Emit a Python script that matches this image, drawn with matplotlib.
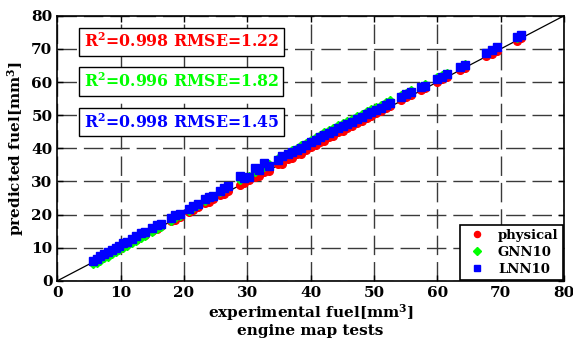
import matplotlib
matplotlib.use("Agg")
import matplotlib.pyplot as plt

plt.rcParams["font.family"] = "DejaVu Serif"
plt.rcParams["font.weight"] = "bold"
plt.rcParams["axes.labelweight"] = "bold"
plt.rcParams["mathtext.fontset"] = "dejavuserif"
plt.rcParams["mathtext.default"] = "bf"

# experimental fuel [mm^3]
experimental = [
    5.6, 6.2, 6.8, 7.4, 8.0, 8.6, 9.2, 9.8, 10.4, 11.0,
    11.8, 12.5, 13.2, 13.8, 15.0, 15.7, 16.4, 17.9, 18.6, 19.3,
    20.8, 21.5, 22.2, 23.3, 24.0, 24.6, 25.7, 26.4, 27.0, 28.8,
    29.5, 30.2, 31.2, 31.9, 32.6, 33.4, 34.9, 35.5, 36.4, 37.1,
    37.8, 38.5, 39.2, 40.1, 40.8, 41.5, 42.2, 42.9, 43.6, 44.4,
    45.1, 45.8, 46.5, 47.3, 48.1, 48.9, 49.6, 50.3, 51.1, 51.9,
    52.6, 54.3, 55.1, 55.9, 57.4, 58.0, 60.0, 60.8, 61.5, 63.6,
    64.4, 67.7, 68.6, 69.5, 72.6, 73.3,
]
physical = [
    5.7, 6.1, 6.9, 7.5, 7.9, 8.7, 9.3, 9.7, 10.5, 11.2,
    11.9, 12.4, 13.4, 13.9, 15.1, 15.6, 16.5, 18.0, 18.5, 19.4,
    20.9, 21.4, 22.3, 23.5, 23.9, 24.8, 25.9, 26.3, 27.2, 29.0,
    29.4, 30.5, 31.5, 31.8, 32.9, 33.3, 35.2, 35.4, 36.8, 37.0,
    38.2, 38.4, 39.6, 40.3, 40.9, 41.9, 42.3, 43.3, 43.8, 44.8,
    45.3, 46.2, 46.7, 47.6, 48.3, 49.2, 49.8, 50.6, 51.3, 52.2,
    52.8, 54.5, 55.5, 56.0, 57.6, 58.3, 60.1, 60.9, 61.6, 63.7,
    64.3, 67.8, 68.5, 69.4, 72.5, 73.2,
]
gnn10 = [
    5.0, 5.5, 6.1, 6.8, 7.3, 8.0, 8.6, 9.3, 9.8, 10.5,
    11.4, 12.0, 12.8, 13.5, 14.8, 15.5, 16.4, 18.0, 18.9, 19.7,
    21.2, 22.0, 22.9, 24.2, 24.9, 25.6, 26.8, 27.6, 28.4, 30.4,
    31.2, 31.8, 33.0, 33.8, 34.5, 35.4, 37.0, 37.6, 38.6, 39.4,
    40.2, 40.9, 41.6, 42.6, 43.3, 44.1, 44.8, 45.5, 46.2, 47.0,
    47.6, 48.3, 49.0, 49.7, 50.4, 51.2, 51.8, 52.5, 53.2, 54.0,
    54.5, 56.1, 56.8, 57.5, 58.9, 59.4, 61.4, 62.0, 62.6, 64.7,
    65.4, 68.8, 69.6, 70.5, 73.4, 74.2,
]
lnn10 = [
    6.0, 6.7, 7.4, 8.0, 8.7, 9.3, 9.9, 10.6, 11.3, 11.8,
    12.7, 13.4, 14.3, 14.8, 16.0, 16.8, 17.3, 19.1, 19.8, 20.1,
    21.8, 22.6, 23.2, 24.6, 25.2, 25.7, 27.2, 27.9, 28.6, 31.8,
    30.9, 31.5, 34.0, 33.4, 35.6, 34.8, 36.5, 37.8, 38.2, 39.0,
    39.6, 40.1, 40.9, 41.9, 42.6, 43.3, 44.0, 44.6, 45.3, 46.1,
    46.8, 47.4, 48.0, 48.8, 49.6, 50.3, 50.9, 51.6, 52.3, 53.1,
    53.7, 55.6, 56.3, 57.0, 58.4, 58.9, 61.0, 61.6, 62.3, 64.5,
    65.3, 68.9, 69.7, 70.6, 73.6, 74.3,
]
stats = [("0.998", "1.22", "red"), ("0.996", "1.82", "#00ff00"), ("0.998", "1.45", "blue")]
ticks = [0, 10, 20, 30, 40, 50, 60, 70, 80]

fig = plt.figure(figsize=(5.73, 3.45), dpi=100)
ax = fig.add_axes([0.100, 0.186, 0.884, 0.768])

ax.plot([0, 80], [0, 80], color="black", lw=0.9, zorder=2)
ax.plot(experimental, physical, "o", color="red", ms=5.5, mec="red", label="physical", zorder=3)
ax.plot(experimental, gnn10, "D", color="#00ff00", ms=4.5, mec="#00ff00", label="GNN10", zorder=4)
ax.plot(experimental, lnn10, "s", color="blue", ms=5.5, mec="blue", label="LNN10", zorder=5)

ax.set_xlim(0, 80)
ax.set_ylim(0, 80)
ax.set_xticks(ticks)
ax.set_yticks(ticks)
ax.tick_params(direction="in", top=True, right=True, labelsize=11, length=4, width=1)
ax.grid(True, color="#3a3a3a", lw=1.0, linestyle=(0, (14, 5)))
for s in ax.spines.values():
    s.set_linewidth(1.2)

ax.set_xlabel("experimental fuel[mm$^3$]\nengine map tests", fontsize=11, fontweight="bold",
              labelpad=2, linespacing=1.1)
ax.set_ylabel("predicted fuel[mm$^3$]", fontsize=11, fontweight="bold", labelpad=4)

ys = [72.1, 60.2, 47.9]
for (r2, rmse, c), y in zip(stats, ys):
    ax.text(4.2, y, "R$^2$=%s RMSE=%s" % (r2, rmse), color=c, fontsize=11.3,
            fontweight="bold", ha="left", va="center", zorder=6,
            bbox=dict(boxstyle="square,pad=0.3", fc="white", ec="black", lw=1))

leg = ax.legend(loc="lower right", fontsize=9.5, markerscale=0.8, fancybox=False,
                edgecolor="black", framealpha=1, borderaxespad=0.1, handletextpad=0.6,
                borderpad=0.3, labelspacing=0.3)
leg.get_frame().set_linewidth(1.2)

fig.savefig("out.png", dpi=100)
